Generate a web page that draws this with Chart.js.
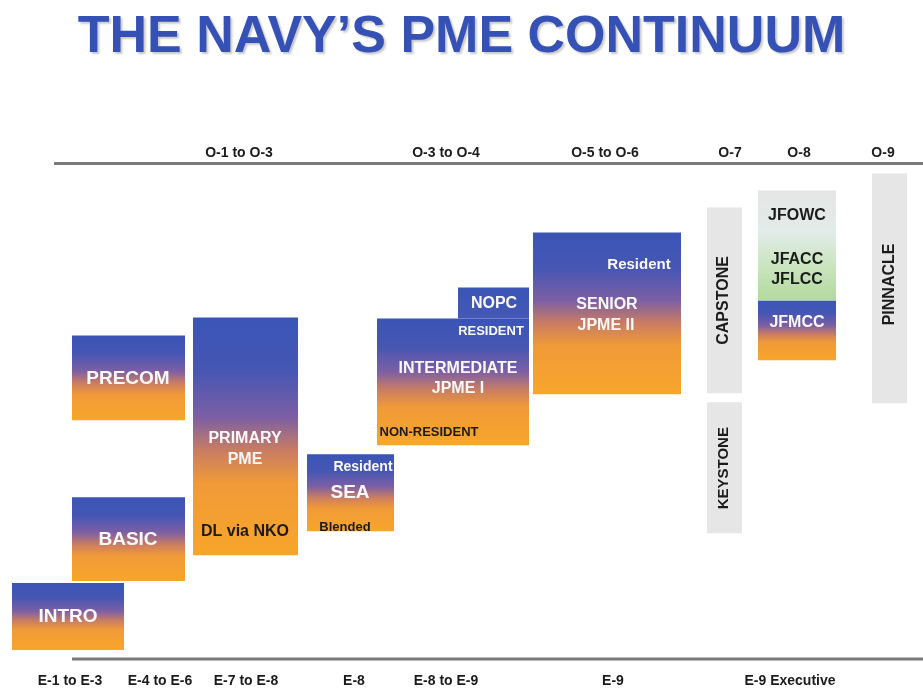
<!DOCTYPE html>
<html>
<head>
<meta charset="utf-8">
<title>The Navy's PME Continuum</title>
<script src="https://cdn.jsdelivr.net/npm/chart.js@4.4.1/dist/chart.umd.min.js"></script>
<style>
  html, body { margin: 0; padding: 0; background: #ffffff; }
  .wrap { position: relative; width: 923px; height: 690px; }
</style>
</head>
<body>
<div class="wrap"><canvas id="pmeChart"></canvas></div>
<script>
// boxes of the continuum (x = grade position, y = level above the enlisted rule)
const boxNames = ['INTRO', 'BASIC', 'PRECOM', 'PRIMARY PME', 'SEA', 'INTERMEDIATE JPME I', 'NOPC',
                  'SENIOR JPME II', 'CAPSTONE', 'KEYSTONE', 'JFOWC / JFACC / JFLCC', 'JFMCC', 'PINNACLE']
const boxKinds = ['pme', 'pme', 'pme', 'pme', 'pme', 'pme', 'nopc',
                  'pme', 'flag', 'flag', 'joint', 'pme', 'flag']
const boxStart = [12, 72, 72, 193, 307, 377, 458, 533, 707, 707, 758, 758, 872]
const boxEnd   = [124, 185, 185, 298, 394, 529, 529, 681, 742, 742, 836, 836, 907]
const boxLow   = [9, 78, 239, 104, 128, 214, 341, 265, 266, 126, 359, 299, 256]
const boxHigh  = [76, 162, 324, 342, 205, 341, 372, 427, 452, 257, 469, 359, 486]

// officer grades (top) and enlisted grades (bottom)
const officerLabels = ['O-1 to O-3', 'O-3 to O-4', 'O-5 to O-6', 'O-7', 'O-8', 'O-9']
const officerPos    = [239, 446, 605, 730, 799, 883]
const enlistedLabels = ['E-1 to E-3', 'E-4 to E-6', 'E-7 to E-8', 'E-8', 'E-8 to E-9', 'E-9', 'E-9 Executive']
const enlistedPos    = [70, 160, 246, 354, 446, 613, 790]

// the two rules
const ruleLevel = [496, 0]
const ruleStart = [54, 72]
const ruleEnd = 923

// text inside the boxes
const boxText = [
  { text: 'INTRO', x: 68, y: 42, size: 19, dark: false },
  { text: 'BASIC', x: 128, y: 119, size: 19, dark: false },
  { text: 'PRECOM', x: 128, y: 281, size: 19, dark: false },
  { text: 'PRIMARY', x: 245, y: 221, size: 16, dark: false },
  { text: 'PME', x: 245, y: 200, size: 16, dark: false },
  { text: 'DL via NKO', x: 245, y: 128, size: 16, dark: true },
  { text: 'Resident', x: 363, y: 192, size: 14, dark: false },
  { text: 'SEA', x: 350, y: 166, size: 19, dark: false },
  { text: 'Blended', x: 345, y: 132, size: 13, dark: true },
  { text: 'NOPC', x: 494, y: 356, size: 16, dark: false },
  { text: 'RESIDENT', x: 491, y: 328, size: 13, dark: false },
  { text: 'INTERMEDIATE', x: 458, y: 291, size: 16, dark: false },
  { text: 'JPME I', x: 458, y: 271, size: 16, dark: false },
  { text: 'NON-RESIDENT', x: 429, y: 227, size: 13, dark: true },
  { text: 'Resident', x: 639, y: 395, size: 15, dark: false },
  { text: 'SENIOR', x: 607, y: 355, size: 16, dark: false },
  { text: 'JPME II', x: 606, y: 334, size: 16, dark: false },
  { text: 'CAPSTONE', x: 724, y: 359, size: 16, dark: true, rotate: true },
  { text: 'KEYSTONE', x: 724, y: 191, size: 15, dark: true, rotate: true },
  { text: 'JFOWC', x: 797, y: 444, size: 16, dark: true },
  { text: 'JFACC', x: 797, y: 400, size: 16, dark: true },
  { text: 'JFLCC', x: 797, y: 380, size: 16, dark: true },
  { text: 'JFMCC', x: 797, y: 337, size: 16, dark: false },
  { text: 'PINNACLE', x: 890, y: 375, size: 16, dark: true, rotate: true }
]

const FONT = '"Liberation Sans", Arial, Helvetica, sans-serif'

const gradientStops = {
  pme:   [[0, '#3a55b6'], [0.22, '#4656b3'], [0.42, '#7c5fa4'], [0.56, '#c97d62'], [0.7, '#f09a38'], [1, '#f7a62b']],
  nopc:  [[0, '#3a55b6'], [1, '#4458b4']],
  joint: [[0, '#e5e5e5'], [0.38, '#e2ece8'], [0.7, '#c9e4bd'], [1, '#b3d99f']],
  flag:  [[0, '#e6e6e6'], [1, '#e6e6e6']]
}

function boxFill(context) {
  const chart = context.chart
  const i = context.datasetIndex
  if (!chart.chartArea) return '#e6e6e6'
  const y = chart.scales.y
  const g = chart.ctx.createLinearGradient(0, y.getPixelForValue(boxHigh[i]), 0, y.getPixelForValue(boxLow[i]))
  gradientStops[boxKinds[i]].forEach(s => g.addColorStop(s[0], s[1]))
  return g
}

const datasets = boxNames.map((name, i) => ({
  label: name,
  data: [{ x: boxStart[i], y: boxHigh[i] }, { x: boxEnd[i], y: boxHigh[i] }],
  fill: { value: boxLow[i] },
  backgroundColor: boxFill,
  borderColor: 'rgba(0,0,0,0)',
  borderWidth: 0,
  pointRadius: 0,
  tension: 0,
  clip: false
}))

ruleLevel.forEach((lvl, i) => {
  datasets.push({
    label: 'rule',
    data: [{ x: ruleStart[i], y: lvl }, { x: ruleEnd, y: lvl }],
    fill: false,
    borderColor: '#7a7a7a',
    borderWidth: 3,
    pointRadius: 0,
    clip: false
  })
})

// title drop shadow, switched off again before the boxes are drawn
const titleShadow = {
  id: 'titleShadow',
  beforeDraw(chart) {
    const ctx = chart.ctx
    ctx.save()
    ctx.shadowColor = 'rgba(60,60,60,0.28)'
    ctx.shadowOffsetX = 2
    ctx.shadowOffsetY = 2
    ctx.shadowBlur = 2
  },
  beforeDatasetsDraw(chart) {
    chart.ctx.restore()
  }
}

const boxLabels = {
  id: 'boxLabels',
  afterDatasetsDraw(chart) {
    const { ctx, scales: { x, y } } = chart
    boxText.forEach(t => {
      ctx.save()
      ctx.font = `bold ${t.size}px ${FONT}`
      ctx.fillStyle = t.dark ? '#1b1b1b' : '#fbf8fb'
      ctx.textAlign = 'center'
      ctx.textBaseline = 'middle'
      ctx.translate(x.getPixelForValue(t.x), y.getPixelForValue(t.y))
      if (t.rotate) ctx.rotate(-Math.PI / 2)
      ctx.fillText(t.text, 0, 0)
      ctx.restore()
    })
  }
}

const ctx = document.getElementById('pmeChart')
new Chart(ctx, {
  type: 'line',
  data: { datasets },
  options: {
    responsive: true,
    maintainAspectRatio: false,
    animation: false,
    devicePixelRatio: 1,
    // the enlisted labels sit lower than chart.js would put them, so let the bottom axis hang a bit
    layout: { padding: { top: 0, left: 0, right: 0, bottom: -13 } },
    plugins: {
      legend: { display: false },
      tooltip: { enabled: false },
      title: {
        display: true,
        text: 'THE NAVY\u2019S PME CONTINUUM',
        color: '#3551b5',
        font: { family: FONT, size: 52, weight: 'bold' },
        padding: { top: 6.6, bottom: 74.6 }
      }
    },
    scales: {
      x: {
        type: 'linear',
        position: 'bottom',
        min: 0,
        max: 923,
        grid: { display: false, drawTicks: false },
        border: { display: false },
        afterBuildTicks: axis => { axis.ticks = enlistedPos.map(v => ({ value: v })) },
        ticks: {
          z: 1,
          autoSkip: false,
          maxRotation: 0,
          padding: 13.6,
          color: '#1b1b1b',
          font: { family: FONT, size: 14, weight: 'bold' },
          callback: (value, index) => enlistedLabels[index]
        }
      },
      xTop: {
        type: 'linear',
        position: 'top',
        min: 0,
        max: 923,
        grid: { display: false, drawTicks: false },
        border: { display: false },
        afterBuildTicks: axis => { axis.ticks = officerPos.map(v => ({ value: v })) },
        ticks: {
          z: 1,
          autoSkip: false,
          maxRotation: 0,
          padding: 1.6,
          color: '#1b1b1b',
          font: { family: FONT, size: 14, weight: 'bold' },
          callback: (value, index) => officerLabels[index]
        }
      },
      y: {
        type: 'linear',
        display: false,
        min: 0,
        max: 496
      }
    }
  },
  plugins: [titleShadow, boxLabels]
})
</script>
</body>
</html>
